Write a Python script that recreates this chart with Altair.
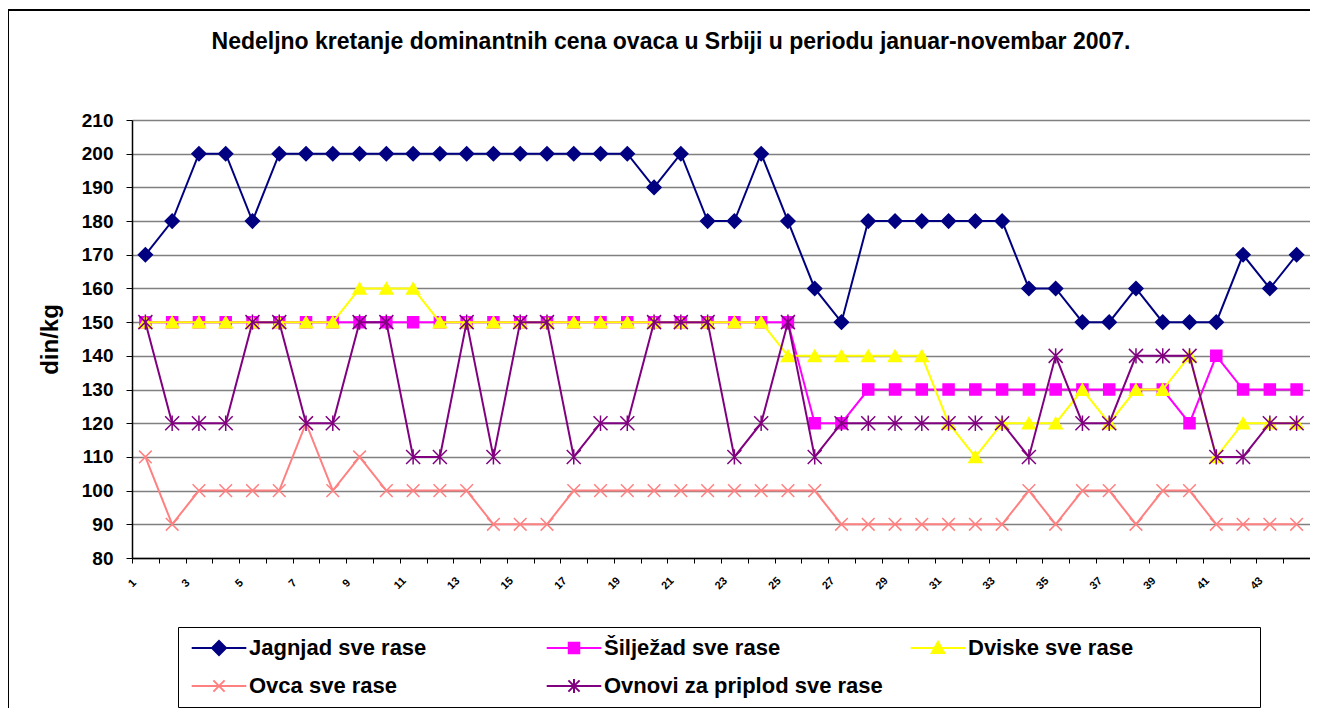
import altair as alt
import pandas as pd

weeks = [1, 2, 3, 4, 5, 6, 7, 8, 9, 10, 11, 12, 13, 14, 15, 16, 17, 18, 19, 20, 21, 22,
         23, 24, 25, 26, 27, 28, 29, 30, 31, 32, 33, 34, 35, 36, 37, 38, 39, 40, 41, 42, 43, 44]

names = ["Jagnjad sve rase", "Šilježad sve rase", "Dviske sve rase",
         "Ovca sve rase", "Ovnovi za priplod sve rase"]
colors = ["#000080", "#FF00FF", "#FFFF00", "#FF8080", "#800080"]

jagnjad = [170, 180, 200, 200, 180, 200, 200, 200, 200, 200, 200, 200, 200, 200, 200,
           200, 200, 200, 200, 190, 200, 180, 180, 200, 180, 160, 150, 180, 180, 180,
           180, 180, 180, 160, 160, 150, 150, 160, 150, 150, 150, 170, 160, 170]
siljezad = [150, 150, 150, 150, 150, 150, 150, 150, 150, 150, 150, 150, 150, 150, 150,
            150, 150, 150, 150, 150, 150, 150, 150, 150, 150, 120, 120, 130, 130, 130,
            130, 130, 130, 130, 130, 130, 130, 130, 130, 120, 140, 130, 130, 130]
dviske = [150, 150, 150, 150, 150, 150, 150, 150, 160, 160, 160, 150, 150, 150, 150,
          150, 150, 150, 150, 150, 150, 150, 150, 150, 140, 140, 140, 140, 140, 140,
          120, 110, 120, 120, 120, 130, 120, 130, 130, 140, 110, 120, 120, 120]
ovca = [110, 90, 100, 100, 100, 100, 120, 100, 110, 100, 100, 100, 100, 90, 90,
        90, 100, 100, 100, 100, 100, 100, 100, 100, 100, 100, 90, 90, 90, 90,
        90, 90, 90, 100, 90, 100, 100, 90, 100, 100, 90, 90, 90, 90]
ovnovi = [150, 120, 120, 120, 150, 150, 120, 120, 150, 150, 110, 110, 150, 110, 150,
          150, 110, 120, 120, 150, 150, 150, 110, 120, 150, 110, 120, 120, 120, 120,
          120, 120, 120, 110, 140, 120, 120, 140, 140, 140, 110, 110, 120, 120]

series_values = [jagnjad, siljezad, dviske, ovca, ovnovi]

y_ticks = [80, 90, 100, 110, 120, 130, 140, 150, 160, 170, 180, 190, 200, 210]

plot_shapes = ["diamond", "square", "triangle-up",
               "M-1,-1L1,1M-1,1L1,-1",
               "M-1,-1L1,1M-1,1L1,-1M0,-1.1L0,1.1"]
plot_sizes = [196, 121, 169, 160, 196]
legend_shapes = [
    "M-3.9,0L3.9,0M0,-1L1,0L0,1L-1,0Z",
    "M-3.9,0L3.9,0M-0.75,-0.75L0.75,-0.75L0.75,0.75L-0.75,0.75Z",
    "M-3.9,0L3.9,0M0,-0.9L0.9,0.7L-0.9,0.7Z",
    "M-3.9,0L3.9,0M-0.8,-0.8L0.8,0.8M-0.8,0.8L0.8,-0.8",
    "M-3.9,0L3.9,0M-0.8,-0.8L0.8,0.8M-0.8,0.8L0.8,-0.8M0,-1L0,1",
]
# trailing blank padding widens legend columns like the original box
legend_pad = [17, 0, 19, 17, 2]

rows = []
for name, vals in zip(names, series_values):
    for w, v in zip(weeks, vals):
        rows.append({"week": w, "series": name, "value": v})
df = pd.DataFrame(rows)

FONT = "Liberation Sans"
W, H = 1178, 438
NB = "\u00a0"
ZW = "\u200b"
legend_names = [n + (NB * p + ZW if p else "") for n, p in zip(names, legend_pad)]

tick_positions = [w - 0.5 for w in weeks] + [weeks[-1] + 0.5]

x_enc = alt.X(
    "week:Q",
    scale=alt.Scale(domain=[0.5, 44.5], nice=False, zero=False),
    axis=alt.Axis(
        values=tick_positions,
        labelExpr="datum.value < 44 && (datum.value + 0.5) % 2 == 1 ? format(datum.value + 0.5, 'd') : ''",
        grid=False, title=None, tickSize=5, tickColor="black", domainColor="black",
        domainWidth=1.5, labelAngle=-45, labelAlign="center", labelBaseline="middle",
        labelPadding=20, labelOffset=0, labelFontSize=11, labelFontWeight="bold",
        labelFont=FONT, labelColor="black", labelOverlap=False, labelFlush=False,
    ),
)
y_enc = alt.Y(
    "value:Q",
    scale=alt.Scale(domain=[80, 210], nice=False, zero=False),
    axis=alt.Axis(
        values=y_ticks, title="din/kg", titleFontSize=24, titleFontWeight="bold",
        titleFont=FONT, titleColor="black", titlePadding=19,
        labelFontSize=19, labelFontWeight="bold", labelFont=FONT, labelColor="black",
        labelPadding=13, tickSize=6, tickColor="black", domainColor="black",
        domainWidth=1.5, grid=True, gridColor="#808080", gridWidth=1.5,
    ),
)

layers = []
# outer frame (top and left edges)
layers.append(alt.Chart(df).mark_rule(color="black", strokeWidth=2).encode(
    x=alt.value(-124), x2=alt.value(W + 10), y=alt.value(-110)))
layers.append(alt.Chart(df).mark_rule(color="black", strokeWidth=2).encode(
    x=alt.value(-124), y=alt.value(-110), y2=alt.value(H + 160)))

for name, col, shp, sz in zip(names, colors, plot_shapes, plot_sizes):
    base = alt.Chart(df).transform_filter(alt.datum.series == name)
    layers.append(base.mark_line(color=col, strokeWidth=2).encode(x=x_enc, y=y_enc))
    layers.append(base.mark_point(shape=shp, size=sz, color=col, fill=col, filled=False,
                                  opacity=1, fillOpacity=1, strokeWidth=1.5)
                  .encode(x=x_enc, y=y_enc))

leg = alt.Legend(
    title=None, orient="none", legendX=46, legendY=507, columns=3, gridAlign="each",
    direction="horizontal", strokeColor="black", fillColor="white", padding=10,
    labelFont=FONT, labelFontSize=22, labelFontWeight="bold", labelColor="black",
    symbolOffset=20, labelOffset=19, rowPadding=16, columnPadding=11, labelLimit=600,
    symbolSize=196, symbolStrokeWidth=2,
)
legend_layer = alt.Chart(df).transform_filter("datum.value < 0").mark_point(
    filled=False, opacity=1, size=196, strokeWidth=2).encode(
    x=x_enc, y=y_enc,
    color=alt.Color("series:N", scale=alt.Scale(domain=legend_names, range=colors), legend=leg),
    fill=alt.Fill("series:N", scale=alt.Scale(domain=legend_names, range=colors), legend=leg),
    shape=alt.Shape("series:N", scale=alt.Scale(domain=legend_names, range=legend_shapes), legend=leg),
)
layers.append(legend_layer)

chart = alt.layer(*layers).properties(
    width=W, height=H,
    autosize=alt.AutoSizeParams(type="none"),
    padding={"left": 124, "top": 112, "right": 0, "bottom": 150},
    title=alt.TitleParams(
        "Nedeljno kretanje dominantnih cena ovaca u Srbiji u periodu januar-novembar 2007.",
        font=FONT, fontSize=23, fontWeight="bold", color="black", anchor="middle",
        frame="group", dx=-50, offset=0, baseline="alphabetic", dy=63,
    ),
).configure_view(stroke="#808080", strokeWidth=1.5).configure(background="white")

chart.save("out.html", embed_options={"renderer": "svg", "actions": False})
